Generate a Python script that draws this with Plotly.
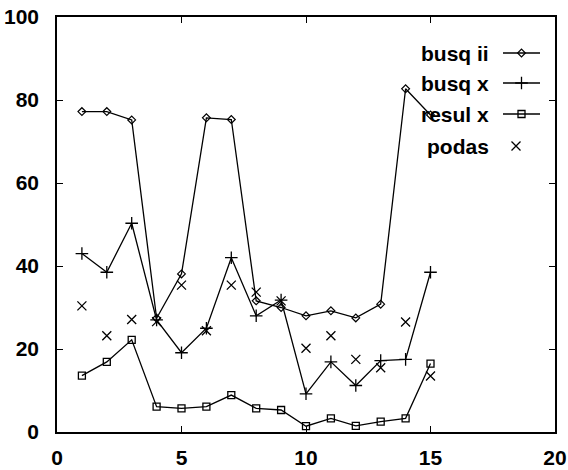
import plotly.graph_objects as go

x_vals = list(range(1, 16))
busq_ii = [77.2, 77.2, 75.2, 27.4, 38.1, 75.7, 75.3, 31.6, 30.0, 28.0, 29.2, 27.5, 30.8, 82.7, 76.4]
busq_x = [43.0, 38.5, 50.3, 27.0, 19.1, 25.0, 42.0, 28.0, 31.8, 9.2, 16.9, 11.2, 17.2, 17.5, 38.5]
resul_x = [13.6, 16.9, 22.2, 6.1, 5.7, 6.1, 8.9, 5.7, 5.3, 1.4, 3.3, 1.5, 2.5, 3.3, 16.5]
podas = [30.4, 23.2, 27.1, 26.6, 35.4, 24.4, 35.4, 33.7, 31.6, 20.2, 23.2, 17.5, 15.5, 26.5, 13.5]

series_names = ["busq ii", "busq x", "resul x", "podas"]
x_ticks = [0, 5, 10, 15, 20]
y_ticks = [0, 20, 40, 60, 80, 100]

FONT = "Liberation Sans, Arial, sans-serif"
W, H = 568, 470
L, R, T, B = 57, 555, 17, 432

styles = {
    "busq ii": dict(mode="lines+markers", marker=dict(symbol="diamond-open", size=6, color="black", line=dict(width=1.2, color="black"))),
    "busq x": dict(mode="lines+markers", marker=dict(symbol="cross-thin", size=9, color="black", line=dict(width=1.3, color="black"))),
    "resul x": dict(mode="lines+markers", marker=dict(symbol="square-open", size=7, color="black", line=dict(width=1.3, color="black"))),
    "podas": dict(mode="markers", marker=dict(symbol="x-thin", size=9, color="black", line=dict(width=1.3, color="black"))),
}

fig = go.Figure()
for name, vals in zip(series_names, [busq_ii, busq_x, resul_x, podas]):
    fig.add_trace(go.Scatter(x=x_vals, y=vals, name=name, showlegend=False,
                             line=dict(color="black", width=1.3), **styles[name]))

# manual legend (text left, sample right), drawn on a pixel-space overlay axis
leg_rows = [53, 83, 114, 146]
for name, yy in zip(series_names, leg_rows):
    st = styles[name]
    if st["mode"] == "lines+markers":
        fig.add_trace(go.Scatter(x=[503, 540], y=[yy, yy], mode="lines", line=dict(color="black", width=1.3),
                                 xaxis="x2", yaxis="y2", showlegend=False, hoverinfo="skip"))
        fig.add_trace(go.Scatter(x=[521.5], y=[yy], mode="markers", marker=st["marker"],
                                 xaxis="x2", yaxis="y2", showlegend=False, hoverinfo="skip"))
    else:
        fig.add_trace(go.Scatter(x=[516], y=[yy], mode="markers", marker=st["marker"],
                                 xaxis="x2", yaxis="y2", showlegend=False, hoverinfo="skip"))
    fig.add_annotation(x=491, y=yy, xref="x2", yref="y2", text=name, showarrow=False,
                       xanchor="right", yanchor="middle",
                       font=dict(family=FONT, size=21, color="black", weight="bold"))

axis_common = dict(showgrid=False, zeroline=False, showline=True, linecolor="black", linewidth=1.5,
                   mirror="allticks", ticks="inside", ticklen=6, tickwidth=1, tickcolor="black",
                   automargin=False,
                   tickfont=dict(family=FONT, size=21, color="black", weight="bold"))

fig.update_layout(
    width=W, height=H,
    margin=dict(l=L, r=W - R, t=T, b=H - B, pad=0, autoexpand=False),
    paper_bgcolor="white", plot_bgcolor="white",
    xaxis=dict(range=[0, 20], tickvals=x_ticks, ticklabelstandoff=6, **axis_common),
    yaxis=dict(range=[0, 100], tickvals=y_ticks, ticklabelstandoff=12, **axis_common),
    xaxis2=dict(range=[L, R], overlaying="x", visible=False, fixedrange=True),
    yaxis2=dict(range=[B, T], overlaying="y", visible=False, fixedrange=True),
)

fig.write_html("out.html", config={"displayModeBar": False},
               post_script="document.body.style.margin='0px';")
